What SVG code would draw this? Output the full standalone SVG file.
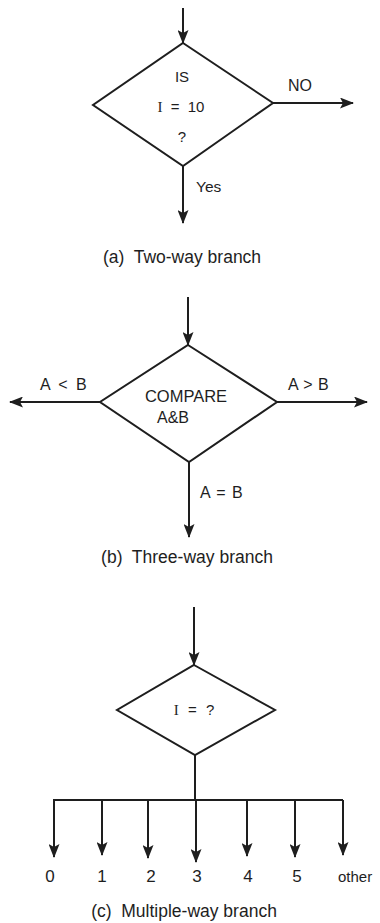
<svg xmlns="http://www.w3.org/2000/svg" width="380" height="923" viewBox="0 0 380 923">
<defs>
<marker id="ah" markerUnits="userSpaceOnUse" markerWidth="14" markerHeight="11" refX="13" refY="5.5" orient="auto">
<path d="M0,0 L14,5.5 L0,11 L3,5.5 z" fill="#1e1e1e"/>
</marker>
<style>
.ln{stroke:#1e1e1e;stroke-width:2;fill:none}
.ar{stroke:#1e1e1e;stroke-width:2;fill:none;marker-end:url(#ah)}
.dm{stroke:#1e1e1e;stroke-width:2;fill:#fff;stroke-linejoin:miter}
.t{font-family:"Liberation Sans",Arial,sans-serif;fill:#1e1e1e}
.s{font-family:"Liberation Serif","Times New Roman",serif}
.cap{font-size:17.5px;text-anchor:middle}
</style>
</defs>
<rect width="380" height="923" fill="#fff"/>
<g id="connectors">
<line class="ar" x1="183" y1="8" x2="183" y2="43"/>
<line class="ar" x1="183" y1="166" x2="183" y2="223"/>
<line class="ar" x1="273" y1="103" x2="353" y2="103"/>
<line class="ar" x1="188" y1="297" x2="188" y2="345"/>
<line class="ar" x1="100" y1="402" x2="10" y2="402"/>
<line class="ar" x1="277" y1="402" x2="367" y2="402"/>
<line class="ar" x1="189" y1="462" x2="189" y2="537"/>
<line class="ar" x1="194" y1="607" x2="194" y2="665"/>
<line class="ln" x1="195" y1="755" x2="195" y2="800"/>
<line class="ln" x1="53" y1="800" x2="343" y2="800"/>
<line class="ar" x1="54" y1="800" x2="54" y2="857"/>
<line class="ar" x1="102" y1="800" x2="102" y2="855"/>
<line class="ar" x1="148" y1="800" x2="148" y2="858"/>
<line class="ar" x1="196" y1="800" x2="196" y2="862"/>
<line class="ar" x1="247" y1="800" x2="247" y2="856"/>
<line class="ar" x1="295" y1="800" x2="295" y2="857"/>
<line class="ar" x1="343" y1="800" x2="343" y2="855"/>
</g>
<g id="labels" class="t">
<text x="288" y="91" font-size="16">NO</text>
<text x="196" y="192" font-size="15.5">Yes</text>
<text x="40" y="390" font-size="16" word-spacing="4">A &lt; B</text>
<text x="288" y="390" font-size="16" word-spacing="1">A &gt; B</text>
<text x="200" y="498" font-size="16" word-spacing="2">A = B</text>
<text x="50" y="882" font-size="17" text-anchor="middle">0</text>
<text x="102" y="882" font-size="17" text-anchor="middle">1</text>
<text x="151" y="882" font-size="17" text-anchor="middle">2</text>
<text x="197" y="882" font-size="17" text-anchor="middle">3</text>
<text x="248" y="882" font-size="17" text-anchor="middle">4</text>
<text x="297" y="882" font-size="17" text-anchor="middle">5</text>
<text x="338" y="882" font-size="15">other</text>
</g>
<g id="node-a">
<polygon class="dm" points="183,43 273,103 183,166 93,105"/>
<text class="t" x="182" y="82" font-size="15" text-anchor="middle">IS</text>
<text class="t" x="181" y="112" font-size="15" text-anchor="middle" word-spacing="4"><tspan class="s">I</tspan> = 10</text>
<text class="t" x="182" y="142" font-size="15" text-anchor="middle">?</text>
</g>
<g id="node-b">
<polygon class="dm" points="188,345 277,402 189,462 100,402"/>
<text class="t" x="186" y="402" font-size="16.5" text-anchor="middle">COMPARE</text>
<text class="t" x="173" y="423" font-size="16" text-anchor="middle">A&amp;B</text>
</g>
<g id="node-c">
<polygon class="dm" points="194,665 275,710 195,755 117,710"/>
<text class="t" x="194" y="715" font-size="15" text-anchor="middle" word-spacing="5"><tspan class="s">I</tspan> = ?</text>
</g>
<g id="captions" class="t">
<text class="cap" x="182" y="263" xml:space="preserve">(a)  Two-way branch</text>
<text class="cap" x="187" y="563" xml:space="preserve">(b)  Three-way branch</text>
<text class="cap" x="184" y="917" xml:space="preserve">(c)  Multiple-way branch</text>
</g>
</svg>
